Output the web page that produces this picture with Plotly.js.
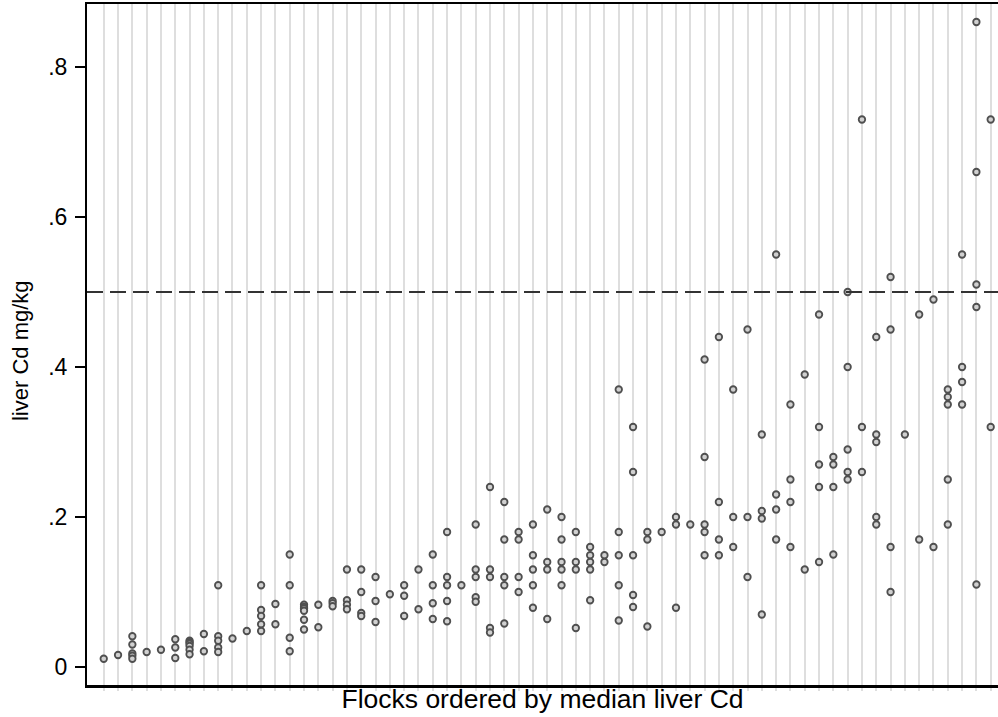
<!DOCTYPE html>
<html>
<head>
<meta charset="utf-8">
<script src="https://cdn.plot.ly/plotly-3.0.1.min.js"></script>
<style>html,body{margin:0;padding:0;background:#fff}#chart{width:998px;height:717px}</style>
</head>
<body>
<div id="chart"></div>
<script>
// liver Cd (mg/kg) measurements per flock, flocks ordered by median
const flockValues = [
  [0.011],
  [0.016],
  [0.041, 0.030, 0.018, 0.015, 0.011],
  [0.020],
  [0.023],
  [0.037, 0.026, 0.012],
  [0.035, 0.033, 0.031, 0.028, 0.023, 0.017],
  [0.044, 0.021],
  [0.109, 0.041, 0.035, 0.026, 0.020],
  [0.038],
  [0.048],
  [0.109, 0.076, 0.068, 0.057, 0.048],
  [0.084, 0.057],
  [0.150, 0.109, 0.039, 0.021],
  [0.083, 0.080, 0.078, 0.075, 0.063, 0.050],
  [0.083, 0.053],
  [0.088, 0.085, 0.081],
  [0.130, 0.089, 0.083, 0.077],
  [0.130, 0.100, 0.072, 0.068],
  [0.120, 0.088, 0.060],
  [0.097],
  [0.109, 0.095, 0.068],
  [0.130, 0.077],
  [0.150, 0.109, 0.085, 0.064],
  [0.180, 0.120, 0.109, 0.088, 0.061],
  [0.109],
  [0.190, 0.130, 0.120, 0.093, 0.087],
  [0.240, 0.130, 0.120, 0.052, 0.046],
  [0.220, 0.170, 0.120, 0.109, 0.058],
  [0.180, 0.170, 0.120, 0.100],
  [0.190, 0.149, 0.130, 0.109, 0.079],
  [0.210, 0.140, 0.130, 0.064],
  [0.200, 0.170, 0.140, 0.130, 0.109],
  [0.180, 0.140, 0.130, 0.052],
  [0.160, 0.149, 0.140, 0.130, 0.089],
  [0.149, 0.140],
  [0.370, 0.180, 0.149, 0.109, 0.062],
  [0.320, 0.260, 0.149, 0.096, 0.080],
  [0.180, 0.170, 0.054],
  [0.180],
  [0.200, 0.190, 0.079],
  [0.190],
  [0.410, 0.280, 0.190, 0.180, 0.149],
  [0.440, 0.220, 0.170, 0.149],
  [0.370, 0.200, 0.160],
  [0.450, 0.200, 0.120],
  [0.310, 0.208, 0.198, 0.070],
  [0.550, 0.230, 0.210, 0.170],
  [0.350, 0.250, 0.220, 0.160],
  [0.390, 0.130],
  [0.470, 0.320, 0.270, 0.240, 0.140],
  [0.280, 0.270, 0.240, 0.150],
  [0.500, 0.400, 0.290, 0.260, 0.250],
  [0.730, 0.320, 0.260],
  [0.440, 0.310, 0.300, 0.200, 0.190],
  [0.520, 0.450, 0.160, 0.100],
  [0.310],
  [0.470, 0.170],
  [0.490, 0.160],
  [0.370, 0.360, 0.350, 0.250, 0.190],
  [0.550, 0.400, 0.380, 0.350],
  [0.860, 0.660, 0.510, 0.480, 0.110],
  [0.730, 0.320]
];
const yTickVals = [0, 0.2, 0.4, 0.6, 0.8];
const yTickText = ['0', '.2', '.4', '.6', '.8'];
const limitValue = 0.5;
const xTitle = 'Flocks ordered by median liver Cd';
const yTitle = 'liver Cd mg/kg';

const xs = [], ys = [];
flockValues.forEach((vals, i) => {
  vals.forEach(v => { xs.push(i + 1); ys.push(v); });
});
const flockIdx = flockValues.map((_, i) => i + 1);

const font = 'Liberation Sans, Arial, Helvetica, sans-serif';

const trace = {
  type: 'scatter', mode: 'markers', x: xs, y: ys,
  marker: { symbol: 'circle', size: 6.5, color: '#d0d0d0', line: { color: '#4f4f4f', width: 1.8 } },
  hoverinfo: 'y', showlegend: false, cliponaxis: false
};

const layout = {
  width: 998, height: 717,
  margin: { l: 87, r: 0, t: 4, b: 32 },
  paper_bgcolor: '#ffffff', plot_bgcolor: '#ffffff',
  font: { family: font, color: '#000', size: 22 },
  showlegend: false,
  xaxis: {
    range: [-0.17, 63.51],
    tickvals: flockIdx, showticklabels: false,
    ticks: 'outside', ticklen: 3, tickwidth: 2, tickcolor: '#dedede',
    showgrid: true, gridcolor: '#dedede', gridwidth: 2,
    zeroline: false, showline: true, linecolor: '#000', linewidth: 2.5, mirror: true,
    title: { text: xTitle, font: { size: 26.5, family: font }, standoff: 0 },
    automargin: false
  },
  yaxis: {
    range: [-0.024, 0.884],
    tickvals: yTickVals, ticktext: yTickText,
    ticks: 'outside', ticklen: 10, tickwidth: 1.5, tickcolor: '#000',
    tickfont: { size: 23, family: font }, ticklabelstandoff: 3,
    showgrid: false, zeroline: false, showline: true, linecolor: '#000', linewidth: 2,
    title: { text: '' },
    automargin: false
  },
  annotations: [{
    text: yTitle, xref: 'paper', yref: 'paper', x: -0.0724, y: 0.4905,
    xanchor: 'center', yanchor: 'middle', textangle: -90, showarrow: false,
    font: { size: 22, family: font, color: '#000' }
  }],
  shapes: [{
    type: 'line', xref: 'paper', yref: 'y', x0: 0, x1: 1, y0: limitValue, y1: limitValue,
    line: { color: '#333333', width: 2, dash: '16px,7px' }, layer: 'above'
  }]
};

Plotly.newPlot('chart', [trace], layout, { displayModeBar: false, staticPlot: true });
</script>
</body>
</html>
